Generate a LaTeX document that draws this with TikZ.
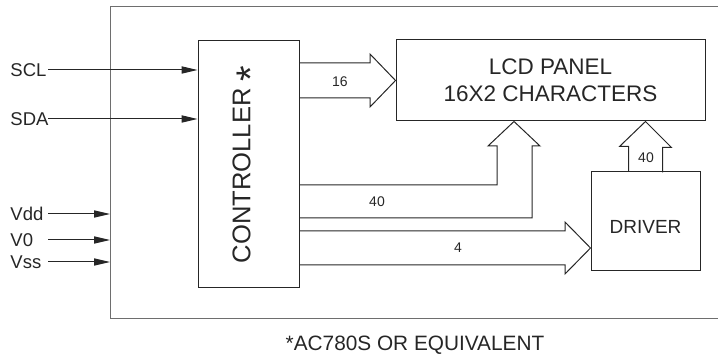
\documentclass[tikz,border=0pt]{standalone}
\usepackage{fontspec}
\setmainfont{Liberation Sans}
\definecolor{InkGrey}{HTML}{262626}
\definecolor{FrameGrey}{HTML}{6E6E6E}
\usetikzlibrary{arrows.meta, positioning, calc}

\begin{document}
\begin{tikzpicture}[x=0.5pt, y=-0.5pt, line width=0.5pt, color=InkGrey,
    >={Triangle[length=8pt, width=3.6pt]},
    blk/.style={draw, inner sep=0pt, align=center},
    bus/.style={draw, line join=miter},
    sig/.style={->},
    pin/.style={anchor=west, inner sep=1pt, font=\fontsize{9.25}{11}\selectfont},
    busw/.style={inner sep=0pt, font=\fontsize{7}{8}\selectfont}]
  \useasboundingbox (0,0) rectangle (718,362);
  % Module frame (open on the right)
  \coordinate (frameNW) at (110,7);
  \coordinate (frameSW) at (110,319);
  \coordinate (pinx) at (48,0);
  \draw[FrameGrey] (718,7) -- (frameNW) -- (frameSW) -- (718,319);
  % Blocks
  \node[blk, minimum width=50.5pt, minimum height=123.5pt,
        font=\fontsize{12.8}{15}\selectfont] (ctrl) at (248.5,164.5)
    {\rotatebox{90}{CONTROLLER\ \raisebox{-7pt}{\fontsize{20}{20}\selectfont *}}};
  \node[blk, minimum width=154.5pt, minimum height=40.5pt,
        font=\fontsize{11.25}{13.5}\selectfont] (lcd) at (550.5,80.5)
    {LCD PANEL\\16X2 CHARACTERS};
  \node[blk, minimum width=54.5pt, minimum height=49.5pt,
        text height=12.3pt, text depth=0pt,
        font=\fontsize{9.5}{11}\selectfont] (drv) at (645.5,221.5) {DRIVER};
  % Pins
  \node[pin] (scl) at (8,70)  {SCL};
  \node[pin] (sda) at (8,119) {SDA};
  \node[pin] (vdd) at (8,214) {Vdd};
  \node[pin] (vzero) at (8,240) {V0};
  \node[pin] (vss) at (8,262) {Vss};
  \draw[sig] (scl -| pinx) -- (scl -| ctrl.west);
  \draw[sig] (sda -| pinx) -- (sda -| ctrl.west);
  \draw[sig] (vdd -| pinx) -- (vdd -| frameNW);
  \draw[sig] (vzero -| pinx) -- (vzero -| frameNW);
  \draw[sig] (vss -| pinx) -- (vss -| frameNW);
  % Buses
  \draw[bus] (ctrl.east |- 0,63) -| (370,54) -- (lcd.west) -- (370,107)
    |- (ctrl.east |- 0,98);
  \draw[bus] (ctrl.east |- 0,185) -| (497,146) -- (488,146)
    -- (lcd.south -| 514,0) -- (540,146) -- (532,146) |- (ctrl.east |- 0,218);
  \draw[bus] (ctrl.east |- 0,231) -| (565,222) -- (drv.west |- 0,248)
    -- (565,274) |- (ctrl.east |- 0,265);
  \draw[bus] ([xshift=-8.5pt]drv.north) -- ++(0,-25) -- ++(-9,0)
    -- (lcd.south -| drv.north) -- ++(26,26) -- ++(-9,0) -- ++(0,25);
  \node[busw] (w16) at (340,82) {16};
  \node[busw] (w40a) at (377,202) {40};
  \node[busw] (w4) at (458,248) {4};
  \node[busw] (w40b) at (646,158) {40};
  % Footnote
  \node[font=\fontsize{10.4}{12}\selectfont] (foot) at (415,345)
    {*AC780S OR EQUIVALENT};
\end{tikzpicture}
\end{document}
